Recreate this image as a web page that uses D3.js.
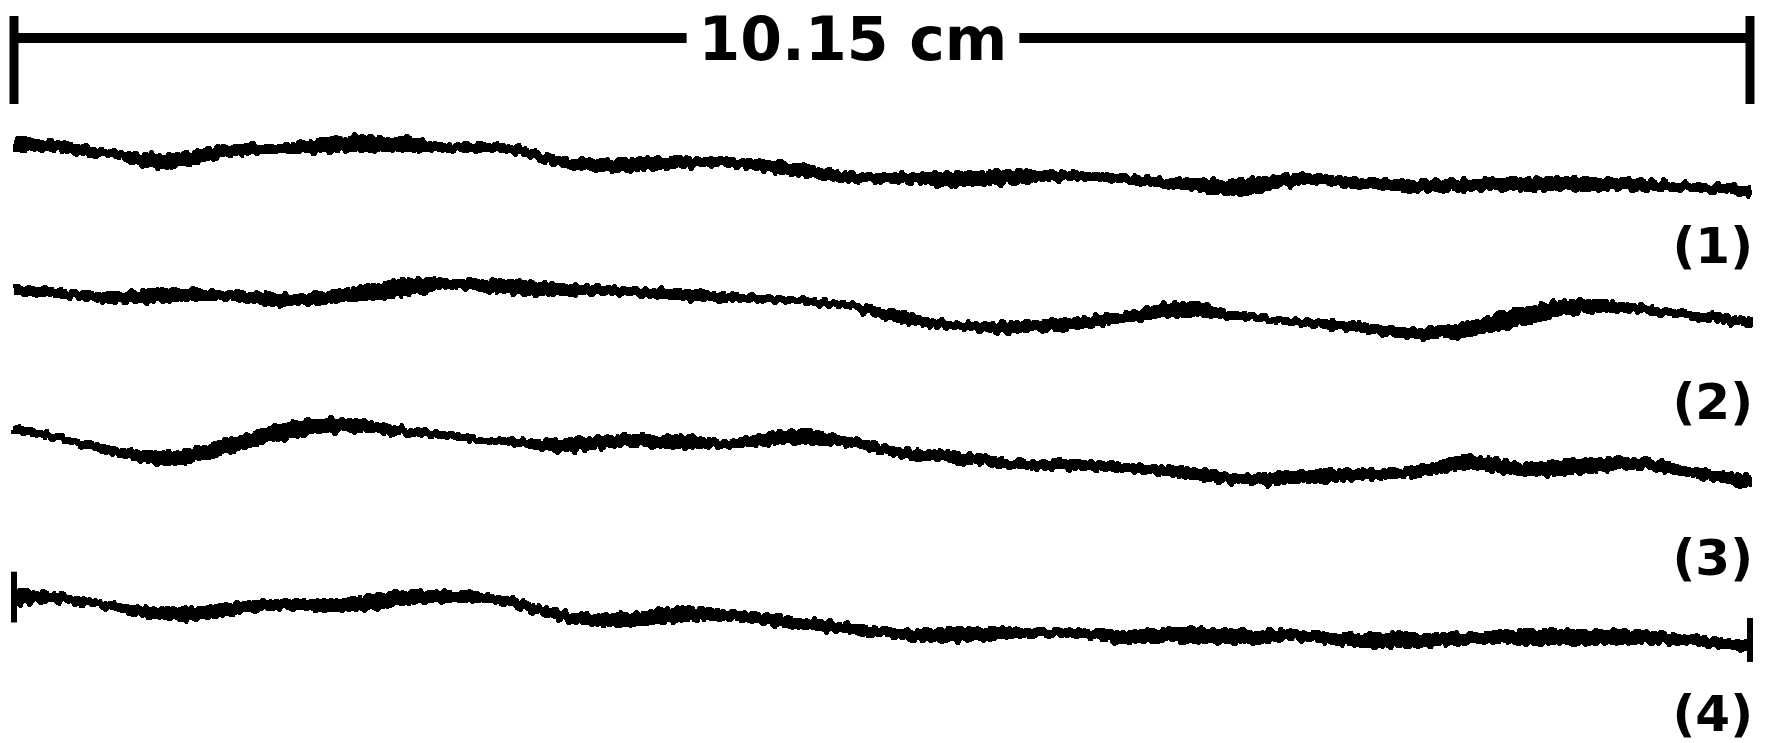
<!DOCTYPE html>
<html>
<head>
<meta charset="utf-8">
<script src="https://cdn.jsdelivr.net/npm/d3@7"></script>
<style>
  html, body { margin: 0; padding: 0; background: #fff; }
  svg { display: block; }
</style>
</head>
<body>
<svg id="chart" width="1769" height="743"></svg>
<script>
// Sampling positions along each profile (cm)
const positionsCm = [0, 0.25, 0.58, 0.91, 1.24, 1.57, 1.90, 2.23, 2.56, 2.89, 3.22, 3.55,
  3.88, 4.21, 4.54, 4.87, 5.20, 5.53, 5.86, 6.19, 6.52, 6.85, 7.18, 7.51, 7.84, 8.17,
  8.50, 8.83, 9.16, 9.49, 9.82, 10.15];

// Profile heights (relative units, up is positive)
const profile1 = [22, 20, 13, 7, 16, 18, 22, 22, 19, 18, 6, 3, 6, 5, 0, -7, -8, -9, -7, -6,
  -9, -14, -16, -9, -12, -15, -14, -13, -13, -14, -16, -20];
const profile2 = [18, 15, 11, 13, 13, 9, 12, 19, 23, 20, 18, 17, 14, 11, 9, 4, -7, -14, -15,
  -12, -6, 1, -6, -11, -15, -21, -17, -5, 4, 1, -5, -11];
const profile3 = [19, 12, 0, -7, 4, 17, 23, 19, 13, 8, 5, 9, 8, 7, 12, 9, -2, -6, -12, -12,
  -15, -19, -25, -23, -21, -19, -10, -16, -14, -11, -19, -27];
const profile4 = [-5, -5, -13, -20, -15, -11, -12, -6, -4, -8, -22, -25, -20, -21, -27, -32,
  -37, -38, -36, -37, -40, -38, -40, -38, -43, -43, -41, -40, -40, -40, -43, -48];

// Local roughness: width of the trace band at each sample (relative units)
const rough1 = [8, 5, 4, 8, 6, 5, 9, 8, 4, 4, 5, 7, 6, 4, 7, 5, 5, 8, 7, 4, 4, 6, 9, 6, 5, 6,
  6, 7, 7, 6, 4, 5];
const rough2 = [5, 4, 5, 7, 5, 7, 6, 10, 5, 8, 6, 4, 6, 4, 3, 3, 6, 4, 6, 6, 5, 8, 3, 3, 5, 5,
  8, 10, 7, 4, 4, 4];
const rough3 = [4, 3, 4, 8, 8, 9, 8, 4, 3, 3, 7, 6, 7, 4, 8, 5, 5, 6, 4, 5, 4, 6, 5, 7, 6, 5,
  8, 7, 8, 6, 5, 7];
const rough4 = [8, 5, 4, 7, 7, 5, 7, 8, 6, 4, 5, 7, 8, 5, 6, 5, 5, 8, 5, 4, 7, 8, 8, 5, 7, 8,
  6, 8, 8, 7, 5, 6];

const profileLabels = ["(1)", "(2)", "(3)", "(4)"];
const profiles = [profile1, profile2, profile3, profile4];
const roughness = [rough1, rough2, rough3, rough4];

// Clamp marks at the ends of profile (4): [position cm, top, bottom]
const clampMarks = [[0, 18, -27], [10.15, -23, -62]];

const scaleLengthCm = 10.15;

const svg = d3.select("#chart");

// Jagged, hard-edged texture of the stylus traces
const defs = svg.append("defs");
const f = defs.append("filter").attr("id", "stylus")
  .attr("filterUnits", "userSpaceOnUse")
  .attr("x", 0).attr("y", 0).attr("width", 1769).attr("height", 743);
f.append("feTurbulence").attr("type", "fractalNoise")
  .attr("baseFrequency", "0.18 0.04").attr("numOctaves", 2).attr("seed", 7).attr("result", "n");
f.append("feDisplacementMap").attr("in", "SourceGraphic").attr("in2", "n")
  .attr("scale", 10).attr("xChannelSelector", "G").attr("yChannelSelector", "R").attr("result", "d");
f.append("feMorphology").attr("in", "d").attr("operator", "dilate")
  .attr("radius", "0.6 1").attr("result", "m");
const ct = f.append("feComponentTransfer").attr("in", "m");
ct.append("feFuncA").attr("type", "discrete").attr("tableValues", "0 1 1 1");

const x = d3.scaleLinear().domain([0, scaleLengthCm]).range([14, 1750]);
const row = d3.scalePoint().domain(profileLabels).range([169, 592]);
const h = d3.scaleLinear().domain([0, 10]).range([0, -11.28]);
const labelRow = d3.scalePoint().domain(profileLabels).range([245, 713]);

// Scale bar across the full profile length
const barY = 38;
const bar = svg.append("g").attr("class", "scale-bar");
const labelText = `${scaleLengthCm} cm`;
const label = bar.append("text")
  .attr("x", (x(0) + x(scaleLengthCm)) / 2 - 29)
  .attr("y", barY)
  .attr("dy", "0.36em")
  .attr("text-anchor", "middle")
  .attr("font-family", "DejaVu Sans")
  .attr("font-weight", "bold")
  .attr("font-size", 60)
  .text(labelText);
const bb = label.node().getBBox();
const gap = 12;
bar.append("line")
  .attr("x1", x(0)).attr("x2", bb.x - gap)
  .attr("y1", barY).attr("y2", barY)
  .attr("stroke", "#000").attr("stroke-width", 10);
bar.append("line")
  .attr("x1", bb.x + bb.width + gap).attr("x2", x(scaleLengthCm))
  .attr("y1", barY).attr("y2", barY)
  .attr("stroke", "#000").attr("stroke-width", 10);
bar.selectAll("line.tick")
  .data([0, scaleLengthCm])
  .join("line")
  .attr("class", "tick")
  .attr("x1", d => x(d)).attr("x2", d => x(d))
  .attr("y1", 16).attr("y2", 104)
  .attr("stroke", "#000").attr("stroke-width", 9);

// Profiles: a roughness band around the centre line
const band = d3.area()
  .x(d => x(d.pos))
  .y0(d => d.base + h(d.val) + h(d.r) * 0.7)
  .y1(d => d.base + h(d.val) - h(d.r) * 0.7)
  .curve(d3.curveCatmullRom.alpha(0.5));
const centre = d3.line()
  .x(d => x(d.pos))
  .y(d => d.base + h(d.val))
  .curve(d3.curveCatmullRom.alpha(0.5));

const traces = svg.append("g").attr("class", "profiles").attr("filter", "url(#stylus)");
profiles.forEach((vals, i) => {
  const base = row(profileLabels[i]);
  const pts = vals.map((v, j) => ({ pos: positionsCm[j], val: v, r: roughness[i][j], base }));
  const g = traces.append("g").attr("class", "profile");
  g.append("path").attr("d", band(pts)).attr("fill", "#000");
  g.append("path").attr("d", centre(pts))
    .attr("fill", "none").attr("stroke", "#000").attr("stroke-width", 3.5);
});

// Clamp marks on profile (4)
svg.append("g").selectAll("line")
  .data(clampMarks)
  .join("line")
  .attr("x1", d => x(d[0])).attr("x2", d => x(d[0]))
  .attr("y1", d => row("(4)") + h(d[1])).attr("y2", d => row("(4)") + h(d[2]))
  .attr("stroke", "#000").attr("stroke-width", 6);

// Profile labels
svg.append("g").selectAll("text")
  .data(profileLabels)
  .join("text")
  .attr("x", 1753)
  .attr("y", d => labelRow(d))
  .attr("dy", "0.36em")
  .attr("text-anchor", "end")
  .attr("font-family", "DejaVu Sans")
  .attr("font-weight", "bold")
  .attr("font-size", 50)
  .attr("fill", "#000")
  .text(d => d);
</script>
</body>
</html>
